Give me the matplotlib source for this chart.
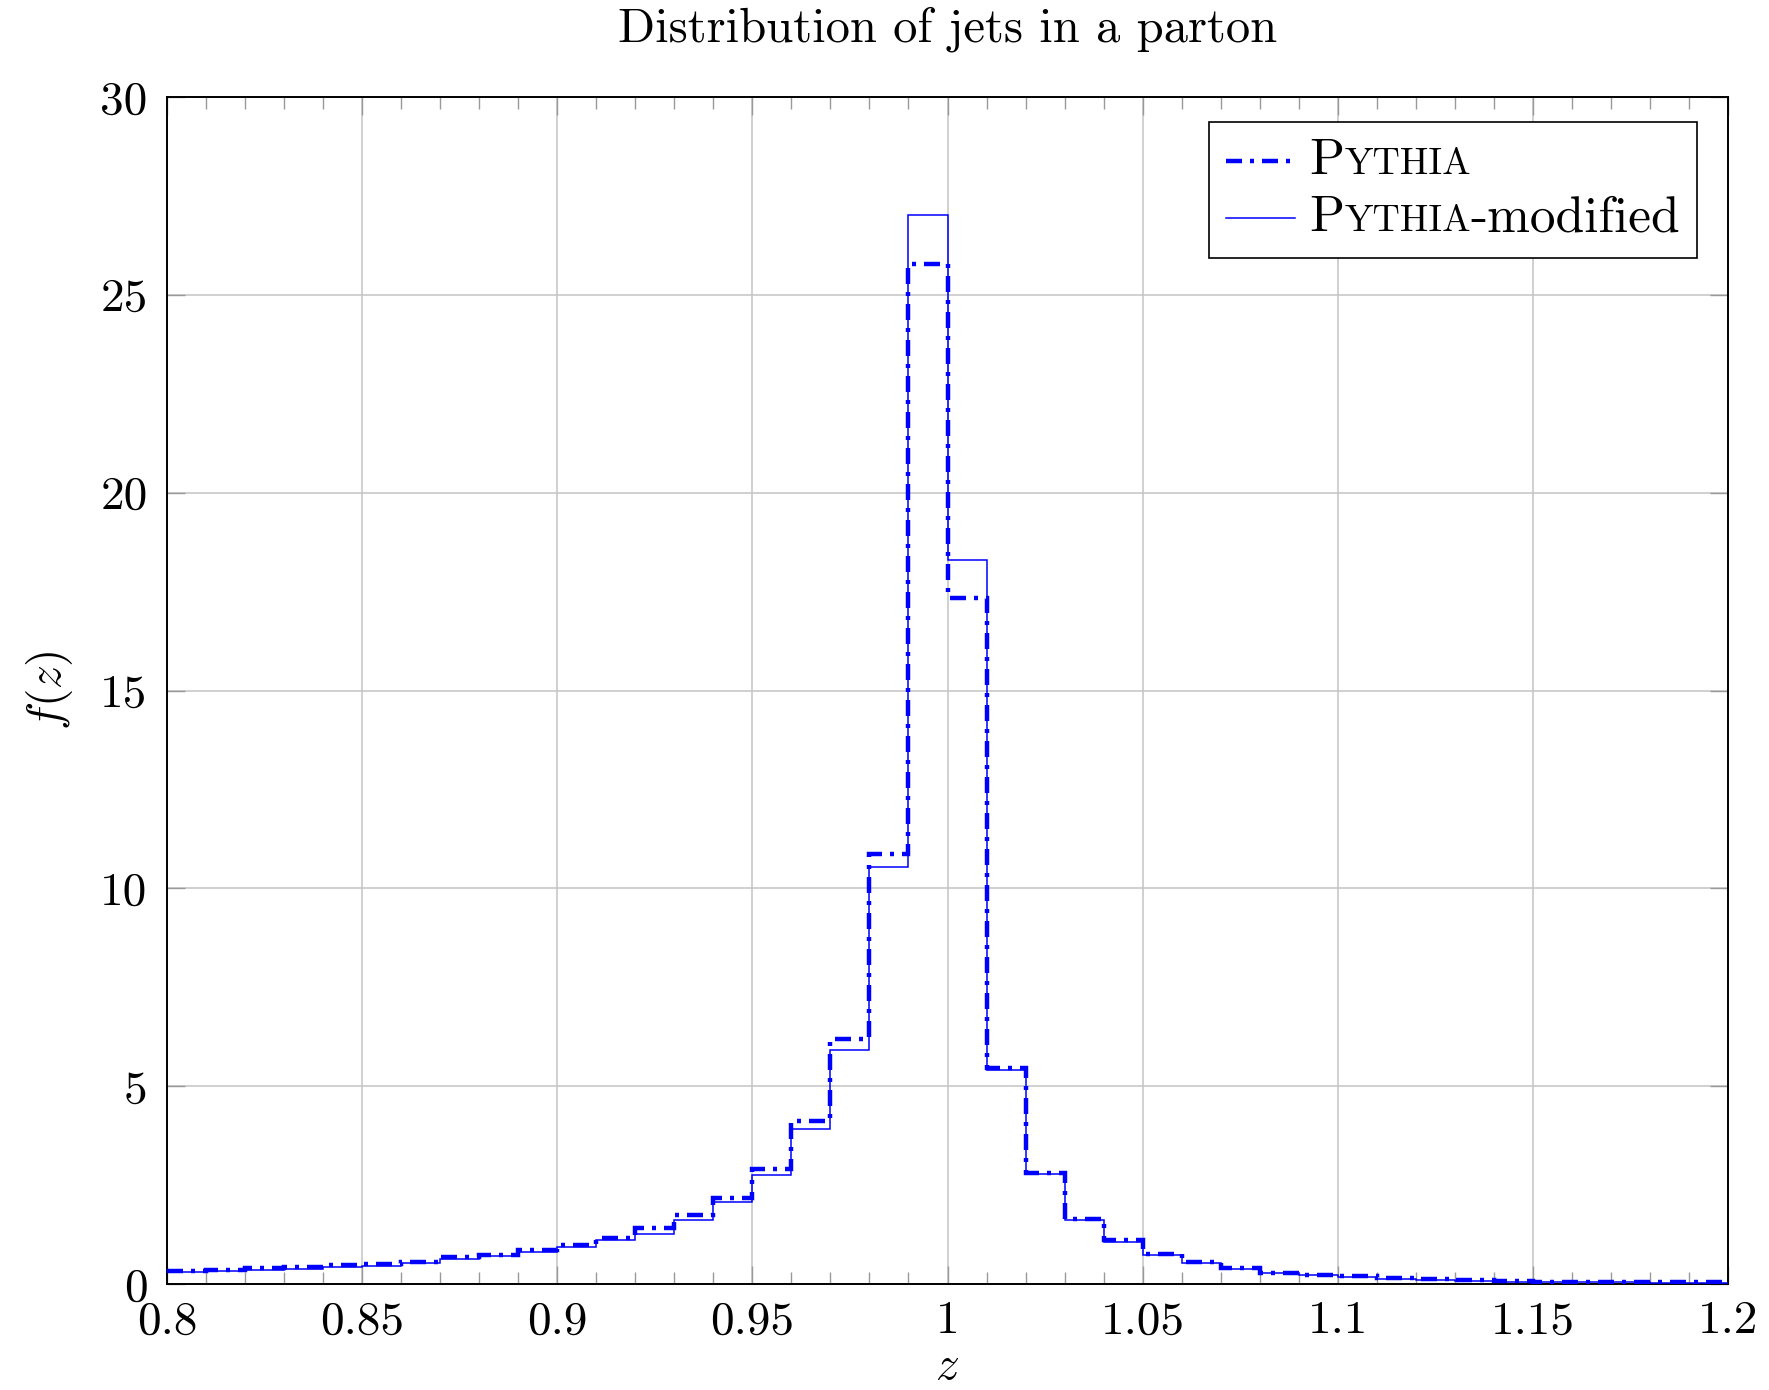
import numpy as np
import matplotlib
matplotlib.use("Agg")
import matplotlib.pyplot as plt
from matplotlib.lines import Line2D
from matplotlib.ticker import FuncFormatter, MultipleLocator
from matplotlib.offsetbox import AnchoredOffsetbox, HPacker, VPacker, TextArea, DrawingArea

# histogram bins of z (width 0.01)
bin_edges = np.linspace(0.80, 1.20, 41)

# f(z) per bin
pythia = [0.32, 0.36, 0.40, 0.44, 0.48, 0.50, 0.56, 0.67, 0.73, 0.85,
          0.99, 1.16, 1.41, 1.74, 2.17, 2.91, 4.13, 6.20, 10.88, 25.78,
          17.35, 5.45, 2.81, 1.65, 1.11, 0.77, 0.56, 0.41, 0.29, 0.24,
          0.19, 0.15, 0.12, 0.09, 0.08, 0.06, 0.06, 0.05, 0.04, 0.04]
pythia_mod = [0.30, 0.33, 0.36, 0.39, 0.44, 0.46, 0.52, 0.62, 0.71, 0.80,
              0.94, 1.11, 1.26, 1.63, 2.08, 2.75, 3.91, 5.92, 10.55, 27.03,
              18.30, 5.42, 2.78, 1.62, 1.07, 0.73, 0.52, 0.39, 0.27, 0.22,
              0.17, 0.13, 0.10, 0.08, 0.06, 0.04, 0.05, 0.04, 0.03, 0.03]

x_ticks = [0.8, 0.85, 0.9, 0.95, 1.0, 1.05, 1.1, 1.15, 1.2]
y_ticks = [0, 5, 10, 15, 20, 25, 30]

FS = 34
LFS = 37
BLUE = "#0000ff"
plt.rcParams["font.family"] = "serif"
plt.rcParams["font.serif"] = ["cmr10"]
plt.rcParams["mathtext.fontset"] = "cm"
plt.rcParams["axes.formatter.use_mathtext"] = True

fig = plt.figure(figsize=(17.69, 13.90), dpi=100)
ax = fig.add_axes([167/1769, 1 - 1284/1390, (1728-167)/1769, (1284-97)/1390])

dashdot = (0, (3.6, 1.8, 0.9, 1.8))
ax.stairs(pythia, bin_edges, baseline=None, color=BLUE, lw=3.2,
          linestyle=dashdot, zorder=3)
ax.stairs(pythia_mod, bin_edges, baseline=None, color=BLUE, lw=1.1, zorder=4)

ax.set_xlim(0.8, 1.2)
ax.set_ylim(0, 30)
ax.set_xticks(x_ticks)
ax.set_yticks(y_ticks)
ax.xaxis.set_minor_locator(MultipleLocator(0.01))
ax.xaxis.set_major_formatter(FuncFormatter(lambda v, p: f"{v:g}"))
ax.yaxis.set_major_formatter(FuncFormatter(lambda v, p: f"{v:g}"))
ax.tick_params(which="both", direction="in", top=True, right=True,
               color="#999999", labelsize=FS)
ax.tick_params(which="major", length=13, width=1.0, pad=12)
ax.tick_params(which="minor", length=8.5, width=1.0)
ax.tick_params(axis="y", pad=14)
ax.grid(True, which="major", color="#c4c4c4", lw=1.1)
ax.set_axisbelow(True)
for s in ax.spines.values():
    s.set_linewidth(1.4)

ax.set_xlabel(r"$z$", fontsize=FS, labelpad=3)
ax.set_ylabel(r"$f(z)$", fontsize=FS, labelpad=18)
ax.set_title("Distribution of jets in a parton", fontsize=35, pad=40)

# legend with small-caps "Pythia"
def legend_row(label_tail, **line_kw):
    da = DrawingArea(50, 20)
    da.add_artist(Line2D([0, 50], [10, 10], color=BLUE, **line_kw))
    parts = [TextArea("P", textprops=dict(fontsize=LFS)),
             TextArea("YTHIA", textprops=dict(fontsize=LFS * 0.74))]
    if label_tail:
        parts.append(TextArea(label_tail, textprops=dict(fontsize=LFS)))
    txt = HPacker(children=parts, align="baseline", pad=0, sep=0)
    return HPacker(children=[da, txt], align="center", pad=0, sep=10)

rows = VPacker(children=[legend_row("", lw=3.2, linestyle=dashdot),
                         legend_row("-modified", lw=1.1)],
               align="left", pad=0, sep=8)
leg = AnchoredOffsetbox(loc="upper right", child=rows, pad=0.35, borderpad=0,
                        frameon=True, prop=dict(size=FS),
                        bbox_to_anchor=(1697/1769, 1 - 122/1390),
                        bbox_transform=fig.transFigure)
leg.patch.set_edgecolor("black")
leg.patch.set_linewidth(1.2)
leg.zorder = 5
ax.add_artist(leg)

fig.savefig("out.png", dpi=100, facecolor="white")
